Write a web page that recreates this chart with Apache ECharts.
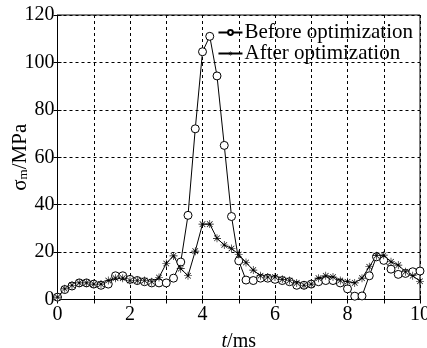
<!DOCTYPE html>
<html><head><meta charset="utf-8">
<script src="https://cdn.jsdelivr.net/npm/echarts@6/dist/echarts.min.js"></script>
<style>html,body{margin:0;padding:0;background:#fff}#c{width:427px;height:348px}</style>
</head><body><div id="c"></div>
<script>
var times = [0,0.2,0.4,0.6,0.8,1.0,1.2,1.4,1.6,1.8,2.0,2.2,2.4,2.6,2.8,3.0,3.2,3.4,3.6,3.8,4.0,4.2,4.4,4.6,4.8,5.0,5.2,5.4,5.6,5.8,6.0,6.2,6.4,6.6,6.8,7.0,7.2,7.4,7.6,7.8,8.0,8.2,8.4,8.6,8.8,9.0,9.2,9.4,9.6,9.8,10.0];
var beforeOpt = [1,4.2,5.7,7,7,6.5,6,6.5,10,10,8.5,8,7.5,7,7,7,9,15.8,35.5,72,104.5,111,94.3,65,35,16.3,8.2,8,9,9,8.5,8,7.5,6,6,6.5,7.5,8,8,7,4.5,1.4,1.5,10,18,16.5,12.8,10.6,11,11.7,12];
var afterOpt = [1,4.5,6,7,7,6.5,6.5,8,9,9,8,8,8,7.5,9.3,15.2,18.4,13,10,20.4,31.8,31.8,25.8,23,21.5,19,15.6,12.4,10,9.5,9.5,8.5,8,7,6,6.5,9,10,9.5,8,7.5,7,9,13.8,18.5,18.7,15.9,14.5,11.7,10,7.7];
var seriesNames = ['Before optimization','After optimization'];
var xTickLabels = [0,2,4,6,8,10];
var yTicks = [0,20,40,60,80,100,120];

var font = '"Liberation Serif","Times New Roman",serif';
var star = 'path://M4.6,0L5.4,0L5.4,10L4.6,10ZM0,4.6L10,4.6L10,5.4L0,5.4ZM1.2,1.8L1.8,1.2L8.8,8.2L8.2,8.8ZM8.2,1.2L8.8,1.8L1.8,8.8L1.2,8.2Z';
function pairs(v){return times.map(function(t,i){return [t,v[i]];});}
function xLabel(v){return xTickLabels.indexOf(v) >= 0 ? String(v) : '';}
var chart = echarts.init(document.getElementById('c'));
chart.setOption({
  animation:false,
  backgroundColor:'#fff',
  textStyle:{fontFamily:font,color:'#000'},
  grid:{left:57.5,right:7,top:15,bottom:48.5,outerBoundsMode:'none',containLabel:false,show:true,borderColor:'#000',borderWidth:1,backgroundColor:'transparent'},
  legend:{
    orient:'vertical',right:9,top:17,itemGap:0,itemWidth:24,itemHeight:6,
    textStyle:{fontFamily:font,fontSize:21,color:'#000',padding:[0,0,0,-3]},
    data:seriesNames
  },
  xAxis:[{
    type:'value',min:0,max:10,interval:1,
    name:'{i|t}/ms',nameLocation:'middle',nameGap:32,nameMoveOverlap:false,
    nameTextStyle:{fontFamily:font,fontSize:20,color:'#000',rich:{i:{fontFamily:font,fontSize:20,fontStyle:'italic',color:'#000'}}},
    axisLine:{lineStyle:{color:'#000',width:1}},
    axisTick:{inside:true,length:4,lineStyle:{color:'#000'}},
    axisLabel:{fontFamily:font,fontSize:20,color:'#000',margin:5,formatter:xLabel},
    splitLine:{show:true,lineStyle:{color:'#000',type:[3,3],width:1}}
  },{
    type:'value',position:'top',min:0,max:10,interval:1,
    axisLine:{show:false},axisTick:{inside:true,length:4,lineStyle:{color:'#000'}},
    axisLabel:{show:false},splitLine:{show:false}
  }],
  yAxis:[{
    type:'value',min:yTicks[0],max:yTicks[yTicks.length-1],interval:20,
    name:'{s|σ}{m|m}{s|/MPa}',nameLocation:'middle',nameGap:27,nameRotate:90,nameMoveOverlap:false,
    nameTextStyle:{rich:{s:{fontFamily:font,fontSize:21,color:'#000'},m:{fontFamily:font,fontSize:13,color:'#000',padding:[8,0,0,0]}}},
    axisLine:{lineStyle:{color:'#000',width:1}},
    axisTick:{inside:true,length:4,lineStyle:{color:'#000'}},
    axisLabel:{fontFamily:font,fontSize:20,color:'#000',margin:3},
    splitLine:{show:true,lineStyle:{color:'#000',type:[3,3],width:1}}
  },{
    type:'value',position:'right',min:0,max:120,interval:20,
    axisLine:{show:false},axisTick:{inside:true,length:4,lineStyle:{color:'#000'}},
    axisLabel:{show:false},splitLine:{show:false}
  }],
  series:[{
    name:seriesNames[0],type:'line',data:pairs(beforeOpt),
    symbol:'circle',symbolSize:8,
    lineStyle:{color:'#000',width:1},
    itemStyle:{color:'#fff',borderColor:'#000',borderWidth:1}
  },{
    name:seriesNames[1],type:'line',data:pairs(afterOpt),
    symbol:star,symbolSize:8,
    lineStyle:{color:'#000',width:1},
    itemStyle:{color:'#000',borderWidth:0}
  }]
});
</script></body></html>
